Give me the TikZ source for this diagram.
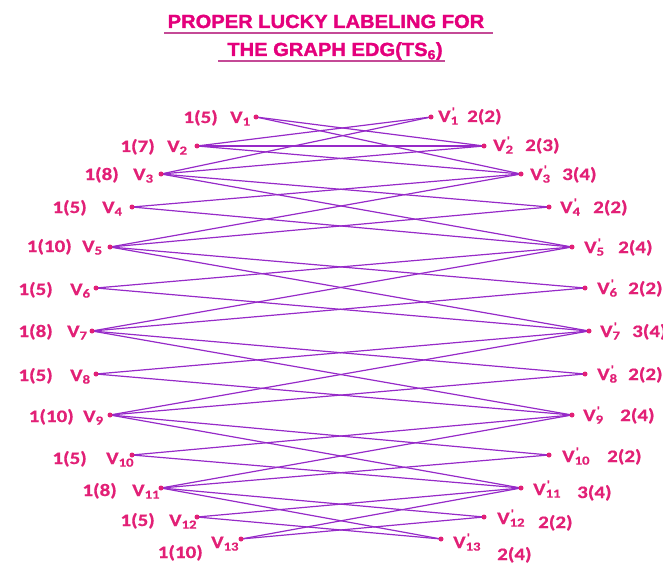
\documentclass[tikz,border=0pt]{standalone}
\usepackage{fontspec}
\usepackage{xcolor}
\setmainfont{Carlito}
\newfontfamily\titlefont{Liberation Sans}[FakeStretch=1.06, FakeBold=1.6]
\newfontfamily\labelfont{Carlito}[FakeStretch=1.2, FakeBold=0.6]
\usetikzlibrary{backgrounds}

\definecolor{titlepink}{RGB}{228,0,124}
\definecolor{labpink}{RGB}{226,32,118}
\definecolor{edgeviolet}{RGB}{150,42,200}
\definecolor{rulemauve}{RGB}{196,74,150}

% vertex names
\newcommand{\lv}[1]{V\textsubscript{#1}}
\newcommand{\rv}[1]{V\rlap{\textsuperscript{\kern1pt'}}\textsubscript{#1}}

\begin{document}
\begin{tikzpicture}[
  x=1pt, y=-1pt,
  dot/.style={circle, fill=labpink, inner sep=0pt, minimum size=5pt},
  vname/.style={inner sep=0pt, text=labpink,
    font=\labelfont\bfseries\fontsize{17.5}{20}\selectfont},
  titletext/.style={inner sep=0pt, text=titlepink,
    font=\titlefont\bfseries\fontsize{19}{22}\selectfont},
  titlerule/.style={draw=rulemauve, line width=1.3pt},
  edge/.style={draw=edgeviolet, line width=1.2pt}
]
\useasboundingbox (0,0) rectangle (663,564);

% title
\node[titletext, anchor=base] (title1) at (326,28) {PROPER LUCKY LABELING FOR};
\node[titletext, anchor=base] (title2) at (335,56) {THE GRAPH EDG(TS\textsubscript{6})};
\draw[titlerule] ([shift={(-3,5)}]title1.base west) -- ([shift={(8,5)}]title1.base east);
\draw[titlerule] ([shift={(-9,5)}]title2.base west) -- ([shift={(2,5)}]title2.base east);

% left vertices
\foreach \i/\x/\y/\num/\nx/\vx/\vb/\nb in {
  1/256/117/1(5)/218/230/6/6, 2/197/146/1(7)/155/167/6/6,
  3/161/174/1(8)/119/133/6/6, 4/132/207/1(5)/87/102/6/6,
  5/110/247/1(10)/72/82/5/5, 6/96/288/1(5)/53/70/7/7,
  7/92/331/1(8)/53/67/6/6, 8/96/374/1(5)/53/70/7/7,
  9/110/415/1(10)/74/83/7/7, 10/132/455/1(5)/87/106/9/9,
  11/161/488/1(8)/117/132/8/8, 12/197/517/1(5)/155/169/9/9,
  13/241/539/1(10)/203/211/9/19} {
  \node[dot] (v\i) at (\x,\y) {};
  \node[vname, anchor=base west] (vn\i) at (\vx,\y+\vb) {\lv{\i}};
  \node[vname, anchor=base east] (vl\i) at (\nx,\y+\nb) {\num};
}

% right vertices
\foreach \i/\x/\y/\num/\vx/\nx/\vb/\nb in {
  1/431/117/2(2)/438/467/5/5, 2/484/146/2(3)/493/525/5/5,
  3/521/174/3(4)/530/562/6/6, 4/549/207/2(2)/560/593/6/6,
  5/572/247/2(4)/584/618/6/6, 6/585/288/2(2)/597/628/6/6,
  7/589/331/3(4)/600/632/6/6, 8/585/374/2(2)/597/628/6/6,
  9/572/415/2(4)/583/620/6/6, 10/549/455/2(2)/562/607/7/7,
  11/521/488/3(4)/533/577/7/10, 12/484/517/2(2)/497/538/7/11,
  13/441/539/2(4)/453/497/9/21} {
  \node[dot] (w\i) at (\x,\y) {};
  \node[vname, anchor=base west] (wn\i) at (\vx,\y+\vb) {\rv{\i}};
  \node[vname, anchor=base west] (wl\i) at (\nx,\y+\nb) {\num};
}

% edges
\begin{scope}[on background layer]
\foreach \i in {1,...,12} {
  \pgfmathtruncatemacro{\j}{\i+1}
  \draw[edge] (v\i.center) -- (w\j.center);
  \draw[edge] (v\j.center) -- (w\i.center);
}
\foreach \i in {1,3,...,11} {
  \pgfmathtruncatemacro{\j}{\i+2}
  \draw[edge] (v\i.center) -- (w\j.center);
  \draw[edge] (v\j.center) -- (w\i.center);
}
\draw[edge] (v2.center) -- (w2.center);
\end{scope}
\end{tikzpicture}
\end{document}
